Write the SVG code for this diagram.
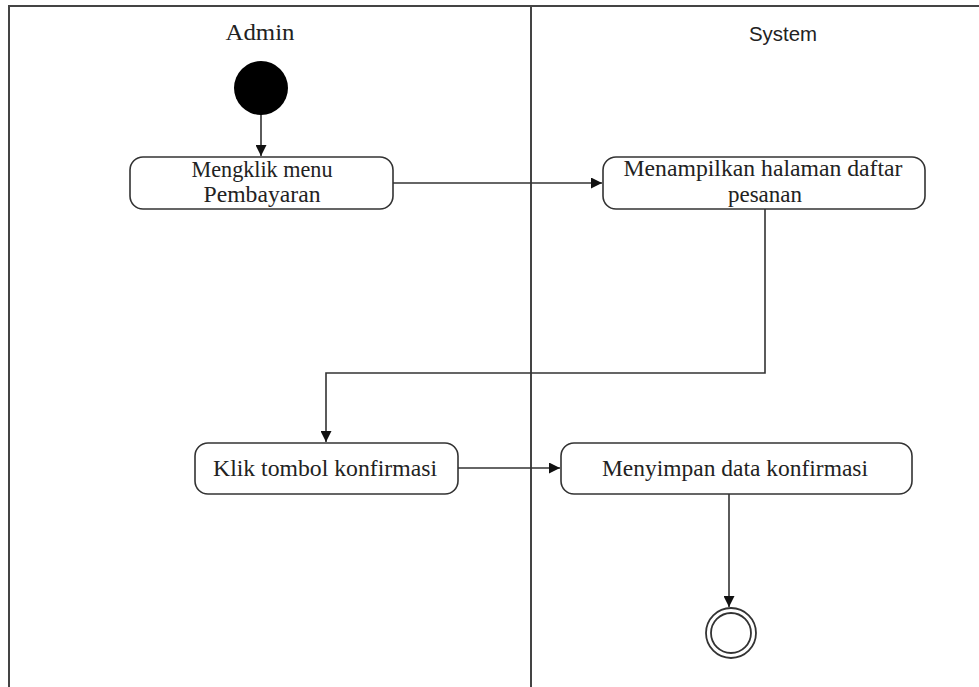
<svg xmlns="http://www.w3.org/2000/svg" width="979" height="687" viewBox="0 0 979 687">
  <defs>
    <marker id="arrow" viewBox="0 0 10 10" refX="10" refY="5" markerWidth="11" markerHeight="11" markerUnits="userSpaceOnUse" orient="auto">
      <path d="M0,0 L10,5 L0,10 z" fill="#111"/>
    </marker>
    <style>
      .lane { stroke: #444; stroke-width: 2; fill: none; }
      .act { fill: #fff; stroke: #333; stroke-width: 1.6; }
      .txt { font-family: "Liberation Serif", "Times New Roman", serif; font-size: 23px; fill: #222; text-anchor: middle; }
      .head { fill: #222; text-anchor: middle; }
      .flow { stroke: #333; stroke-width: 1.6; fill: none; marker-end: url(#arrow); }
    </style>
  </defs>
  <rect width="979" height="687" fill="#fff"/>

  <!-- swimlane frame -->
  <g id="lanes">
    <path class="lane" d="M9,687 V6 H979"/>
    <path class="lane" d="M531,6 V687"/>
    <text class="head" x="260" y="40" style="font-family:'Liberation Serif',serif;font-size:23px" textLength="69" lengthAdjust="spacingAndGlyphs">Admin</text>
    <text class="head" x="783" y="41" style="font-family:'Liberation Sans',Arial,sans-serif;font-size:21px" textLength="68" lengthAdjust="spacingAndGlyphs">System</text>
  </g>

  <!-- connectors -->
  <g id="connectors">
    <path class="flow" d="M261,114 V156"/>
    <path class="flow" d="M393,183 H602"/>
    <path class="flow" d="M765,209 V373 H326 V442"/>
    <path class="flow" d="M458,468 H560"/>
    <path class="flow" d="M729,494 V607"/>
  </g>

  <g id="start">
    <circle cx="261" cy="88" r="27" fill="#000"/>
  </g>

  <g id="klik-menu">
    <rect class="act" x="130" y="157" width="263" height="52" rx="13"/>
    <text class="txt" x="262" y="177" textLength="141" lengthAdjust="spacingAndGlyphs">Mengklik menu</text>
    <text class="txt" x="262" y="202" textLength="117" lengthAdjust="spacingAndGlyphs">Pembayaran</text>
  </g>

  <g id="tampil-pesanan">
    <rect class="act" x="603" y="157" width="322" height="52" rx="13"/>
    <text class="txt" x="763" y="176" textLength="279" lengthAdjust="spacingAndGlyphs">Menampilkan halaman daftar</text>
    <text class="txt" x="765" y="202">pesanan</text>
  </g>

  <g id="klik-konfirmasi">
    <rect class="act" x="195" y="443" width="263" height="51" rx="13"/>
    <text class="txt" x="325" y="476" textLength="224" lengthAdjust="spacingAndGlyphs">Klik tombol konfirmasi</text>
  </g>

  <g id="simpan-konfirmasi">
    <rect class="act" x="561" y="443" width="351" height="51" rx="13"/>
    <text class="txt" x="735" y="476" textLength="266" lengthAdjust="spacingAndGlyphs">Menyimpan data konfirmasi</text>
  </g>

  <g id="end">
    <circle cx="731" cy="633" r="25" fill="#fff" stroke="#333" stroke-width="1.8"/>
    <circle cx="731" cy="633" r="20" fill="#fff" stroke="#333" stroke-width="1.8"/>
  </g>
</svg>
